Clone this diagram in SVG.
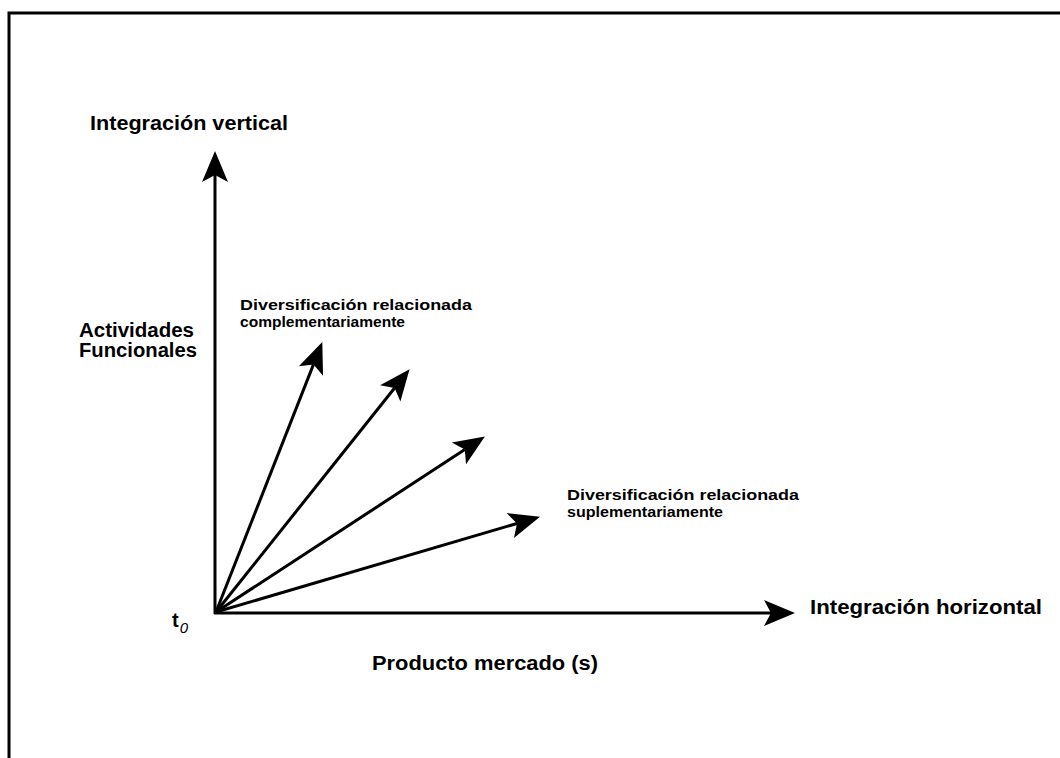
<svg xmlns="http://www.w3.org/2000/svg" width="1060" height="758" viewBox="0 0 1060 758">
  <style>
    .frame { fill: none; stroke: #000; stroke-width: 3; }
    .ray { stroke: #000; stroke-width: 3; fill: none; }
    .big { font-family: "Liberation Sans", Arial, sans-serif; font-size: 20px; font-weight: bold; fill: #000; }
    .small { font-family: "Liberation Sans", Arial, sans-serif; font-size: 15px; font-weight: bold; fill: #000; }
  </style>
  <defs>
    <marker id="head" markerUnits="userSpaceOnUse" markerWidth="60" markerHeight="60" refX="0" refY="0" orient="auto" overflow="visible">
      <path d="M24,0 L-7,-13 L0,0 L-7,13 Z" fill="#000"/>
    </marker>
  </defs>

  <rect width="1060" height="758" fill="#fff"/>

  <!-- page frame -->
  <path class="frame" d="M9,758 L9,13 L1060,13"/>

  <!-- connectors: axes and diversification rays from the origin -->
  <g id="connectors">
    <line class="ray" x1="215" y1="614" x2="215" y2="175" marker-end="url(#head)"/>
    <line class="ray" x1="214" y1="613" x2="771" y2="613" marker-end="url(#head)"/>
    <line class="ray" x1="216" y1="612" x2="313.5" y2="364.4" marker-end="url(#head)"/>
    <line class="ray" x1="216" y1="612" x2="394.6" y2="388.0" marker-end="url(#head)"/>
    <line class="ray" x1="216" y1="612" x2="464.8" y2="449.6" marker-end="url(#head)"/>
    <line class="ray" x1="216" y1="612" x2="517.0" y2="523.5" marker-end="url(#head)"/>
  </g>

  <g id="label-vertical">
    <text class="big" x="90" y="130" textLength="198" lengthAdjust="spacingAndGlyphs">Integración vertical</text>
  </g>
  <g id="label-actividades">
    <text class="big" x="79" y="337" textLength="115" lengthAdjust="spacingAndGlyphs">Actividades</text>
    <text class="big" x="79" y="357" textLength="118" lengthAdjust="spacingAndGlyphs">Funcionales</text>
  </g>
  <g id="label-complementaria">
    <text class="small" x="240" y="310" textLength="232" lengthAdjust="spacingAndGlyphs">Diversificación relacionada</text>
    <text class="small" x="240" y="327" textLength="165" lengthAdjust="spacingAndGlyphs">complementariamente</text>
  </g>
  <g id="label-suplementaria">
    <text class="small" x="567" y="500" textLength="232" lengthAdjust="spacingAndGlyphs">Diversificación relacionada</text>
    <text class="small" x="567" y="517" textLength="156" lengthAdjust="spacingAndGlyphs">suplementariamente</text>
  </g>
  <g id="label-origin">
    <text class="big" x="172" y="627" font-size="22">t<tspan font-size="15" font-weight="normal" font-style="italic" dx="1" dy="6">0</tspan></text>
  </g>
  <g id="label-horizontal">
    <text class="big" x="810" y="614" textLength="232" lengthAdjust="spacingAndGlyphs">Integración horizontal</text>
  </g>
  <g id="label-producto">
    <text class="big" x="372" y="670" textLength="226" lengthAdjust="spacingAndGlyphs">Producto mercado (s)</text>
  </g>
</svg>
